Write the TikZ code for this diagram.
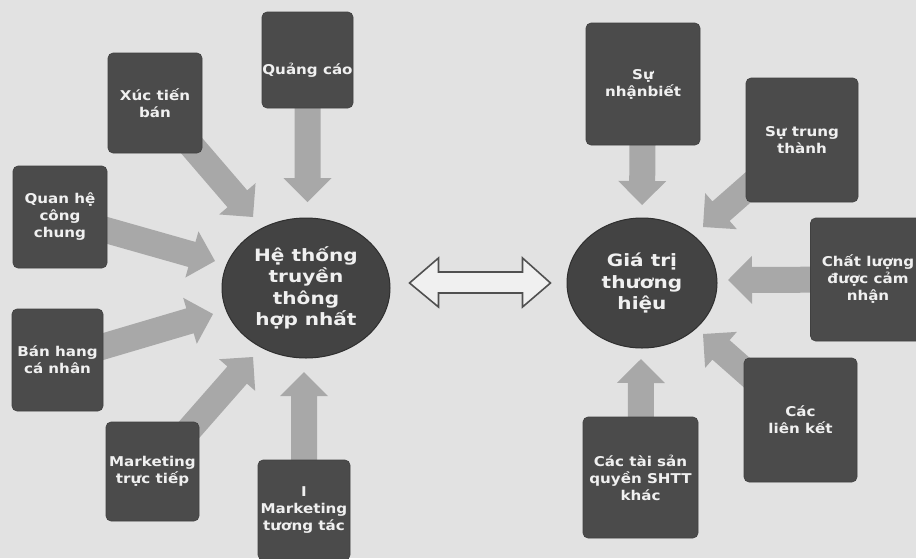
\documentclass[tikz,border=0pt]{standalone}
\usepackage{fontspec}
\setmainfont{DejaVu Sans}
\newfontfamily\boxfont[FakeStretch=1.12]{DejaVu Sans}
\newfontfamily\hubfont[FakeStretch=1.18]{DejaVu Sans}
\usetikzlibrary{calc,shapes.geometric}

\definecolor{paper}{HTML}{E2E2E2}
\definecolor{boxgray}{HTML}{4B4B4B}
\definecolor{ballgray}{HTML}{434343}
\definecolor{arrowgray}{HTML}{A8A8A8}
\definecolor{inkgray}{HTML}{505050}
\definecolor{lettering}{HTML}{F0F0F0}

\pgfdeclarelayer{back}
\pgfsetlayers{back,main}

\tikzset{
  boxtext/.style={text=lettering, align=center, inner sep=0pt,
    font=\boxfont\bfseries\fontsize{13.5}{17}\selectfont},
  factor/.style={boxtext, fill=boxgray, draw=boxgray!85!black, line width=0.6pt,
    rounded corners=5pt},
  boxsize/.style 2 args={minimum width=#1, minimum height=#2},
  hub/.style={ellipse, fill=ballgray, draw=ballgray!70!black, line width=1pt,
    text=lettering, align=center, inner sep=0pt,
    font=\hubfont\bfseries\fontsize{17}{21.5}\selectfont},
  twoway/.style={draw=inkgray, line width=1.6pt, fill=paper!50!white, line join=miter},
}

% wide grey block arrow from the centre of a node to a tip coordinate
\newcommand\blockarrow[2]{%
  \coordinate (ba-s) at (#1);
  \coordinate (ba-t) at (#2);
  \coordinate (ba-c) at ($(ba-t)!24pt!(ba-s)$);
  \fill[arrowgray]
    ($(ba-s)!13pt!90:(ba-t)$) -- ($(ba-c)!13pt!90:(ba-t)$) --
    ($(ba-c)!24pt!90:(ba-t)$) -- (ba-t) --
    ($(ba-c)!24pt!-90:(ba-t)$) -- ($(ba-c)!13pt!-90:(ba-t)$) --
    ($(ba-s)!13pt!-90:(ba-t)$) -- cycle;}

\begin{document}
\begin{tikzpicture}[x=1pt,y=-1pt]
  \useasboundingbox (0,0) rectangle (916,558);
  \clip (0,0) rectangle (916,558);

  % centre circles
  \node[hub, minimum width=168pt, minimum height=140pt] (ht) at (306,288)
    {Hệ thống\\truyền\\thông\\hợp nhất};
  \node[hub, minimum width=150pt, minimum height=130pt] (gt) at (642,283)
    {Giá trị\\thương\\hiệu};

  % left-hand factors
  \node[factor, boxsize={94pt}{100pt}] (xuc) at (155,103) {Xúc tiến\\bán};
  \node[factor, boxsize={91pt}{96pt},
    label={[boxtext, yshift=-10pt]center:Quảng cáo}] (quang) at (307.5,60) {};
  \node[factor, boxsize={94pt}{102pt}] (quanhe) at (60,217) {Quan hệ\\công\\chung};
  \node[factor, boxsize={91pt}{102pt}] (banhang) at (57.5,360) {Bán hang\\cá nhân};
  \node[factor, boxsize={93pt}{99pt}] (mtt) at (152.5,471.5) {Marketing\\trực tiếp};
  \node[factor, boxsize={92pt}{100pt}] (mtuong) at (304,510) {I\\Marketing\\tương tác};

  % right-hand factors
  \node[factor, boxsize={114pt}{122pt}] (nhan) at (643,84) {Sự\\nhậnbiết};
  \node[factor, boxsize={112pt}{124pt}] (trung) at (802,140) {Sự trung\\thành};
  \node[factor, boxsize={115pt}{123pt}] (chat) at (868,279.5) {Chất lượng\\được cảm\\nhận};
  \node[factor, boxsize={113pt}{124pt}] (lien) at (800.5,420) {Các\\liên kết};
  \node[factor, boxsize={115pt}{121pt}] (tai) at (640.5,477.5) {Các tài sản\\quyền SHTT\\khác};

  % arrow tips around the circles
  \coordinate (t-xuc) at (253,217);
  \coordinate (t-quang) at (307.5,202);
  \coordinate (t-quanhe) at (215,261);
  \coordinate (t-banhang) at (213,314);
  \coordinate (t-mtt) at (253,357);
  \coordinate (t-mtuong) at (304,372);
  \coordinate (t-nhan) at (642,205);
  \coordinate (t-trung) at (703,227);
  \coordinate (t-chat) at (728,280);
  \coordinate (t-lien) at (703,334);
  \coordinate (t-tai) at (641,359);

  % ends of the two-way arrow between the circles
  \coordinate (dl) at ($(ht.east)+(19,-5)$);
  \coordinate (dr) at ($(gt.west)+(-16,0)$);

  \begin{pgfonlayer}{back}
    \fill[paper] (0,0) rectangle (916,558);
    \blockarrow{xuc}{t-xuc}
    \blockarrow{quang}{t-quang}
    \blockarrow{quanhe}{t-quanhe}
    \blockarrow{banhang}{t-banhang}
    \blockarrow{mtt}{t-mtt}
    \blockarrow{mtuong}{t-mtuong}
    \blockarrow{nhan}{t-nhan}
    \blockarrow{trung}{t-trung}
    \blockarrow{chat}{t-chat}
    \blockarrow{lien}{t-lien}
    \blockarrow{tai}{t-tai}
  \end{pgfonlayer}

  % two-way outlined arrow
  \draw[twoway] (dl) -- ($(dl)+(29,-25)$) -- ($(dl)+(29,-11)$)
    -- ($(dr)+(-28,-11)$) -- ($(dr)+(-28,-25)$) -- (dr)
    -- ($(dr)+(-28,24)$) -- ($(dr)+(-28,10)$)
    -- ($(dl)+(29,10)$) -- ($(dl)+(29,24)$) -- cycle;
\end{tikzpicture}
\end{document}
